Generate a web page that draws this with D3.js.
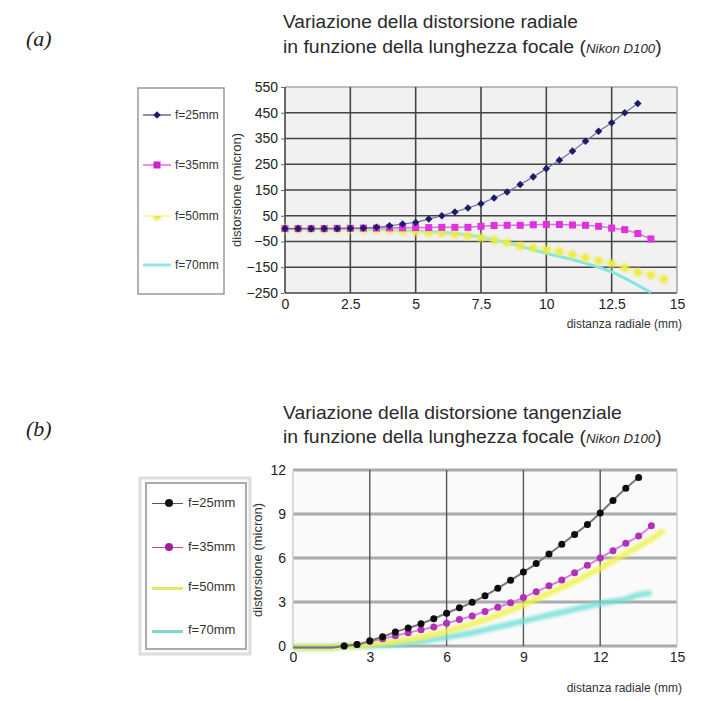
<!DOCTYPE html>
<html>
<head>
<meta charset="utf-8">
<script src="https://cdn.jsdelivr.net/npm/d3@7"></script>
<style>
  body { margin: 0; background: #fff; }
  svg { display: block; }
  .tick text { font-family: "Liberation Sans", Arial, sans-serif; fill: #222; }
</style>
</head>
<body>
<div id="chart"></div>
<script>
// radial distance samples (mm)
var xRad = [0,0.5,1,1.5,2,2.5,3,3.5,4,4.5,5,5.5,6,6.5,7,7.5,8,8.5,9,9.5,10,10.5,11,11.5,12,12.5,13,13.5,14,14.5];

// (a) radial distortion (micron)
var rad25 = [0,0,0,0,0,1,2,5,11,18,24,37,50,65,80,97,119,142,171,201,233,266,301,339,378,411,450,486];
var rad35 = [0,0,0,0,1,1,2,2,3,3,4,4,5,5,5,9,12,13,13,15,16,16,14,13,9,2,-4,-19,-40];
var rad50 = [0,0,0,-1,-1,-2,-3,-4,-6,-9,-12,-15,-18,-22,-28,-35,-44,-55,-67,-75,-82,-89,-100,-113,-125,-135,-152,-169,-180,-197];
var rad70 = [0,0,0,0,-1,-1,-2,-3,-4,-6,-8,-11,-14,-19,-25,-33,-43,-55,-68,-82,-96,-108,-120,-135,-150,-168,-192,-220,-248];

// (b) tangential distortion (micron)
var tan25 = [-0.1,-0.1,-0.1,-0.1,0,0.1,0.35,0.63,0.96,1.23,1.52,1.86,2.24,2.6,2.98,3.42,3.94,4.48,5.04,5.62,6.27,6.94,7.61,8.28,9.07,9.92,10.75,11.49];
var tan35 = [-0.1,-0.1,-0.1,-0.1,0,0.1,0.3,0.5,0.7,0.9,1.1,1.3,1.55,1.8,2.05,2.35,2.65,2.95,3.3,3.7,4.1,4.5,5.0,5.5,6.0,6.5,7.0,7.5,8.2];
var tan50 = [-0.1,-0.1,-0.1,-0.1,0,0,0.1,0.2,0.3,0.45,0.6,0.8,1.0,1.25,1.5,1.8,2.1,2.45,2.8,3.2,3.6,4.0,4.4,4.85,5.3,5.8,6.3,6.8,7.3,7.9];
var tan70 = [-0.1,-0.1,-0.1,-0.1,0,0,0,0.05,0.1,0.2,0.3,0.45,0.6,0.75,0.9,1.1,1.3,1.5,1.7,1.9,2.1,2.3,2.5,2.7,2.9,3.05,3.2,3.5,3.6];

var legendLabels = ["f=25mm","f=35mm","f=50mm","f=70mm"];
var xTicksA = [0,2.5,5,7.5,10,12.5,15];
var yTicksA = [550,450,350,250,150,50,-50,-150,-250];
var xTicksB = [0,3,6,9,12,15];
var yTicksB = [0,3,6,9,12];

var width = 715, height = 701;
var svg = d3.select("#chart").append("svg")
    .attr("width", width)
    .attr("height", height);

// filters in user space so flat horizontal lines don't vanish
var defs = svg.append("defs");
[["soft",0.6],["glow",1.4]].forEach(function (f) {
    defs.append("filter").attr("id", f[0])
        .attr("filterUnits","userSpaceOnUse")
        .attr("x",0).attr("y",0).attr("width",width).attr("height",height)
        .append("feGaussianBlur").attr("stdDeviation", f[1]);
});

function pairs(ys) {
    return ys.map(function (v, i) { return [xRad[i], v]; });
}

// title with a condensed look: measure then squeeze to target width
function title(x, y, parts, target) {
    var g = svg.append("g");
    var t = g.append("text")
        .attr("x", 0).attr("y", 0)
        .style("font-family", "'Liberation Sans Narrow', 'Liberation Sans', Arial, sans-serif")
        .style("font-size", "19px")
        .style("fill", "#2a2a2a");
    parts.forEach(function (p) {
        t.append("tspan")
            .text(p.s)
            .style("font-style", p.it ? "italic" : "normal")
            .style("font-size", p.sm ? "13px" : "19px");
    });
    var w = t.node().getComputedTextLength();
    g.attr("transform", "translate(" + x + "," + y + ") scale(" + (target / w) + ",1)");
}

function panelLabel(txt, x, y) {
    svg.append("text")
        .attr("x", x).attr("y", y)
        .text(txt)
        .style("font-family", "'Liberation Serif', 'Times New Roman', serif")
        .style("font-style", "italic")
        .style("font-size", "22px")
        .style("fill", "#222");
}

/* ---------------- (a) ---------------- */
panelLabel("(a)", 26, 46);
title(283, 28, [{s:"Variazione della distorsione radiale"}], 295);
title(283, 53, [{s:"in funzione della lunghezza focale ("},{s:"Nikon D100", it:true, sm:true},{s:")"}], 379);

var xa = d3.scaleLinear().domain([0,15]).range([285,677]);
var ya = d3.scaleLinear().domain([-250,550]).range([293,87]);

svg.append("rect")
    .attr("x", xa(0)).attr("y", ya(550))
    .attr("width", xa(15)-xa(0)).attr("height", ya(-250)-ya(550))
    .attr("fill", "#f1f1f1");

var gridA = svg.append("g").attr("filter","url(#soft)");
gridA.selectAll(".hg").data(yTicksA).enter().append("line")
    .attr("x1", xa(0)).attr("x2", xa(15))
    .attr("y1", function (d) { return ya(d); })
    .attr("y2", function (d) { return ya(d); })
    .attr("stroke", function (d) { return d === 550 ? "#aaa" : "#444"; })
    .attr("stroke-width", 1.6);
gridA.selectAll(".vg").data(xTicksA).enter().append("line")
    .attr("y1", ya(550)).attr("y2", ya(-250))
    .attr("x1", function (d) { return xa(d); })
    .attr("x2", function (d) { return xa(d); })
    .attr("stroke", function (d) { return d === 15 ? "#aaa" : "#444"; })
    .attr("stroke-width", 1.6);

svg.append("g")
    .attr("transform", "translate(" + (xa(0)-1) + ",0)")
    .call(d3.axisLeft(ya).tickValues(yTicksA).tickSize(3).tickPadding(3))
    .call(function (g) { g.select(".domain").remove(); })
    .call(function (g) { g.selectAll("line").attr("stroke","#666"); })
    .selectAll("text").style("font-size","14px");

svg.append("g")
    .attr("transform", "translate(0," + ya(-250) + ")")
    .call(d3.axisBottom(xa).tickValues(xTicksA).tickSize(0).tickPadding(6)
        .tickFormat(function (d) { return String(d); }))
    .call(function (g) { g.select(".domain").remove(); })
    .selectAll("text").style("font-size","14px");

svg.append("text")
    .attr("transform", "translate(241,190) rotate(-90)")
    .attr("text-anchor", "middle")
    .text("distorsione (micron)")
    .style("font-family","'Liberation Sans', Arial, sans-serif")
    .style("font-size","13px").style("fill","#333");

svg.append("text")
    .attr("x", 682).attr("y", 328)
    .attr("text-anchor", "end")
    .text("distanza radiale (mm)")
    .style("font-family","'Liberation Sans', Arial, sans-serif")
    .style("font-size","12px").style("fill","#333");

var lineA = d3.line().x(function (d) { return xa(d[0]); }).y(function (d) { return ya(d[1]); });

// f=70 cyan soft line
svg.append("path").datum(pairs(rad70)).attr("d", lineA)
    .attr("fill","none").attr("stroke","#7fe6e6").attr("stroke-width",3).attr("filter","url(#soft)");
// f=50 yellow dots
var g50a = svg.append("g").attr("filter","url(#glow)");
g50a.append("path").datum(pairs(rad50)).attr("d", lineA)
    .attr("fill","none").attr("stroke","#f3f37a").attr("stroke-width",1.5);
g50a.selectAll("circle").data(pairs(rad50)).enter().append("circle")
    .attr("cx", function (d) { return xa(d[0]); })
    .attr("cy", function (d) { return ya(d[1]); })
    .attr("r", 4).attr("fill","#ecec3a");
// f=35 magenta squares
var g35a = svg.append("g").attr("filter","url(#soft)");
g35a.append("path").datum(pairs(rad35)).attr("d", lineA)
    .attr("fill","none").attr("stroke","#e070e0").attr("stroke-width",1.5);
g35a.selectAll("rect").data(pairs(rad35)).enter().append("rect")
    .attr("x", function (d) { return xa(d[0]) - 3.5; })
    .attr("y", function (d) { return ya(d[1]) - 3.5; })
    .attr("width", 7).attr("height", 7).attr("fill","#dd33dd");
// f=25 navy diamonds
var g25a = svg.append("g").attr("filter","url(#soft)");
g25a.append("path").datum(pairs(rad25)).attr("d", lineA)
    .attr("fill","none").attr("stroke","#7070a8").attr("stroke-width",1.2);
g25a.selectAll("path.pt").data(pairs(rad25)).enter().append("path")
    .attr("class","pt")
    .attr("d", d3.symbol(d3.symbolDiamond2, 36))
    .attr("transform", function (d) { return "translate(" + xa(d[0]) + "," + ya(d[1]) + ")"; })
    .attr("fill","#1c1c6a");

// legend (a)
svg.append("rect").attr("x",138).attr("y",88).attr("width",86).attr("height",206)
    .attr("fill","#fff").attr("stroke","#999").attr("stroke-width",1.5);
var legYA = [115,165,216,265];
var legA = svg.selectAll(".legA").data(legendLabels).enter().append("g")
    .attr("transform", function (d,i) { return "translate(0," + legYA[i] + ")"; });
legA.append("text").attr("x",175).attr("y",4).text(function (d) { return d; })
    .style("font-family","'Liberation Sans', Arial, sans-serif")
    .style("font-size","12px").style("fill","#333");
legA.append("line").attr("x1",143).attr("x2",171).attr("y1",0).attr("y2",0)
    .attr("stroke", function (d,i) { return ["#6a6aa0","#e070e0","#f6f6a0","#90e8e8"][i]; })
    .attr("stroke-width", function (d,i) { return i === 3 ? 3 : 1.5; });
legA.filter(function (d,i) { return i === 0; }).append("path")
    .attr("d", d3.symbol(d3.symbolDiamond2, 36)).attr("transform","translate(157,0)").attr("fill","#1c1c6a");
legA.filter(function (d,i) { return i === 1; }).append("rect")
    .attr("x",153.5).attr("y",-3.5).attr("width",7).attr("height",7).attr("fill","#cc22cc");
legA.filter(function (d,i) { return i === 2; }).append("circle")
    .attr("cx",157).attr("cy",0).attr("r",4).attr("fill","#e6e640").attr("filter","url(#glow)");

/* ---------------- (b) ---------------- */
panelLabel("(b)", 26, 436);
title(283, 419, [{s:"Variazione della distorsione tangenziale"}], 339);
title(283, 443, [{s:"in funzione della lunghezza focale ("},{s:"Nikon D100", it:true, sm:true},{s:")"}], 379);

var xb = d3.scaleLinear().domain([0,15]).range([293,677]);
var yb = d3.scaleLinear().domain([0,12]).range([646,470]);

svg.append("rect")
    .attr("x", xb(0)).attr("y", yb(12))
    .attr("width", xb(15)-xb(0)).attr("height", yb(0)-yb(12))
    .attr("fill", "#fafafa");

var gridB = svg.append("g").attr("filter","url(#soft)");
gridB.selectAll(".hg").data(yTicksB).enter().append("line")
    .attr("x1", xb(0)).attr("x2", xb(15))
    .attr("y1", function (d) { return yb(d); })
    .attr("y2", function (d) { return yb(d); })
    .attr("stroke", "#aaa")
    .attr("stroke-width", 3);
gridB.selectAll(".vg").data(xTicksB).enter().append("line")
    .attr("y1", yb(12)).attr("y2", yb(0))
    .attr("x1", function (d) { return xb(d); })
    .attr("x2", function (d) { return xb(d); })
    .attr("stroke", function (d) { return (d === 0 || d === 15) ? "#ccc" : "#555"; })
    .attr("stroke-width", 1.4);

svg.append("g")
    .attr("transform", "translate(" + (xb(0)-4) + ",0)")
    .call(d3.axisLeft(yb).tickValues(yTicksB).tickSize(0).tickPadding(3))
    .call(function (g) { g.select(".domain").remove(); })
    .selectAll("text").style("font-size","14px");

svg.append("g")
    .attr("transform", "translate(0," + yb(0) + ")")
    .call(d3.axisBottom(xb).tickValues(xTicksB).tickSize(0).tickPadding(6))
    .call(function (g) { g.select(".domain").remove(); })
    .selectAll("text").style("font-size","14px");

svg.append("text")
    .attr("transform", "translate(262,560) rotate(-90)")
    .attr("text-anchor", "middle")
    .text("distorsione (micron)")
    .style("font-family","'Liberation Sans', Arial, sans-serif")
    .style("font-size","13px").style("fill","#333");

svg.append("text")
    .attr("x", 682).attr("y", 692)
    .attr("text-anchor", "end")
    .text("distanza radiale (mm)")
    .style("font-family","'Liberation Sans', Arial, sans-serif")
    .style("font-size","12px").style("fill","#333");

var lineB = d3.line().curve(d3.curveMonotoneX)
    .x(function (d) { return xb(d[0]); }).y(function (d) { return yb(d[1]); });

svg.append("path").datum(pairs(tan70)).attr("d", lineB)
    .attr("fill","none").attr("stroke","#70e0d8").attr("stroke-width",6)
    .attr("opacity",0.8).attr("filter","url(#glow)");
svg.append("path").datum(pairs(tan50)).attr("d", lineB)
    .attr("fill","none").attr("stroke","#f2f250").attr("stroke-width",6)
    .attr("opacity",0.85).attr("filter","url(#glow)");

var g35b = svg.append("g").attr("filter","url(#soft)");
g35b.append("path").datum(pairs(tan35)).attr("d", lineB)
    .attr("fill","none").attr("stroke","#e080e0").attr("stroke-width",2);
g35b.selectAll("circle").data(pairs(tan35).slice(4)).enter().append("circle")
    .attr("cx", function (d) { return xb(d[0]); })
    .attr("cy", function (d) { return yb(d[1]); })
    .attr("r", 3.5).attr("fill","#b030b8");

var g25b = svg.append("g").attr("filter","url(#soft)");
g25b.append("path").datum(pairs(tan25)).attr("d", lineB)
    .attr("fill","none").attr("stroke","#777").attr("stroke-width",2);
g25b.selectAll("circle").data(pairs(tan25).slice(4)).enter().append("circle")
    .attr("cx", function (d) { return xb(d[0]); })
    .attr("cy", function (d) { return yb(d[1]); })
    .attr("r", 3.5).attr("fill","#111");

// legend (b)
svg.append("rect").attr("x",140).attr("y",478).attr("width",110).attr("height",176)
    .attr("fill","none").attr("stroke","#ddd").attr("stroke-width",3);
svg.append("rect").attr("x",146).attr("y",483).attr("width",100).attr("height",166)
    .attr("fill","#fff").attr("stroke","#aaa").attr("stroke-width",2);
var legYB = [503,547,587,630];
var legB = svg.selectAll(".legB").data(legendLabels).enter().append("g")
    .attr("transform", function (d,i) { return "translate(0," + legYB[i] + ")"; });
legB.append("text").attr("x",188).attr("y",4).text(function (d) { return d; })
    .style("font-family","'Liberation Sans', Arial, sans-serif")
    .style("font-size","13px").style("fill","#333");
legB.append("line").attr("x1",152).attr("x2",183).attr("y1",0).attr("y2",0)
    .attr("stroke", function (d,i) { return ["#555","#b050b0","#e8e860","#80d8c8"][i]; })
    .attr("stroke-width", function (d,i) { return i >= 2 ? 6 : 2; })
    .attr("filter","url(#soft)");
legB.filter(function (d,i) { return i < 2; }).append("circle")
    .attr("cx",169).attr("cy",0).attr("r",4)
    .attr("fill", function (d,i) { return i === 0 ? "#111" : "#a02090"; });
</script>
</body>
</html>
